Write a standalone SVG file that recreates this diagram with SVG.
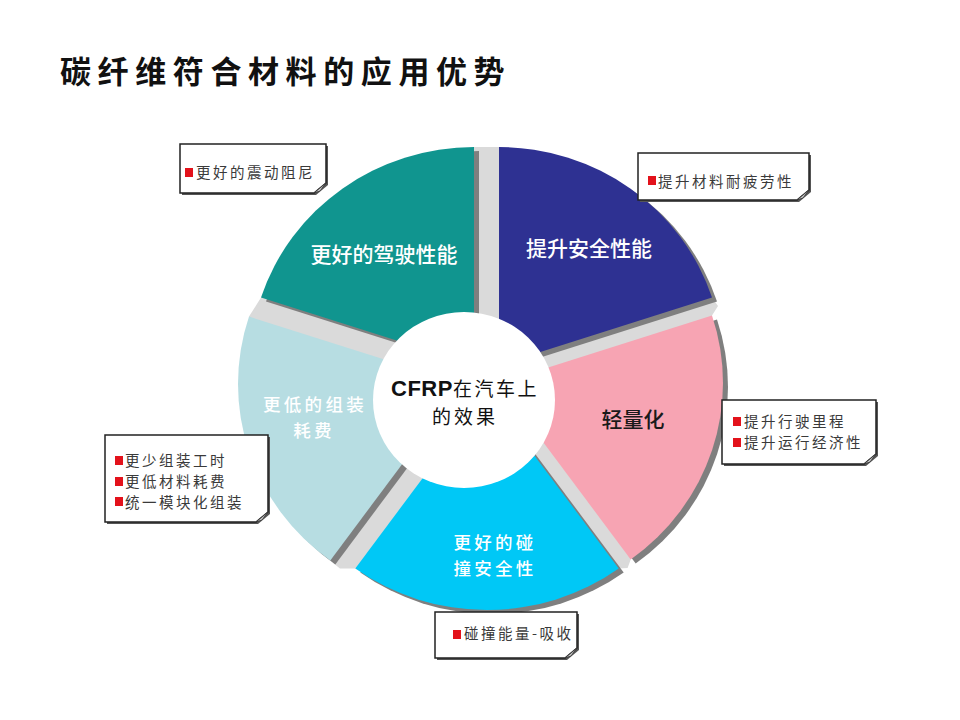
<svg xmlns="http://www.w3.org/2000/svg" width="960" height="720" viewBox="0 0 960 720">
<style>
.shadow{fill:#7f7f7f}
.lbl{font-family:"Noto Sans CJK SC","Noto Sans",sans-serif;font-size:21px;text-anchor:middle;font-weight:500}
.lbl2{font-family:"Noto Sans CJK SC","Noto Sans",sans-serif;font-size:17.5px;letter-spacing:3.3px;text-anchor:middle;font-weight:500}
.w{fill:#ffffff}
.co{font-family:"Noto Sans CJK SC","Noto Sans",sans-serif;font-size:14.5px;letter-spacing:2.5px;fill:#3a3a3a}
.box{fill:#ffffff;stroke:#222;stroke-width:1.5}
.boxsh{fill:#555}
.curl{fill:#c8c8c8;stroke:#333;stroke-width:0.8}
.bul{fill:#e3121b}
</style>
<rect width="960" height="720" fill="#ffffff"/>
<text x="60" y="83" font-family="'Noto Sans CJK SC',sans-serif" font-size="31" font-weight="bold" letter-spacing="6.6" fill="#111">碳纤维符合材料的应用优势</text>

<g id="base">
<path d="M474,147 L499,147 L712,297.6 L718,306 L712,315.6 L630.7,559.4 L627.6,568 L618.7,568.4 L355.3,568.4 L339.9,568.4 L330.3,560.4 L249,316.6 L261,297.6 Z" fill="#dadada"/>
</g>
<g id="shadows">
<path class="shadow" transform="translate(5,4)" d="M474,365 L474,147 A224,218 0 0,0 261,297.6 Z"/>
<path class="shadow" transform="translate(5,4)" d="M499,365 L499,147 A224,218 0 0,1 712,297.6 Z"/>
<path class="shadow" transform="translate(5,4)" d="M499,383 L712,315.6 A224,218 0 0,1 630.7,559.4 Z"/>
<path class="shadow" transform="translate(5,4)" d="M487,392 L618.7,568.4 A224,218 0 0,1 355.3,568.4 Z"/>
<path class="shadow" transform="translate(5,4)" d="M462,384 L330.3,560.4 A224,218 0 0,1 249,316.6 Z"/>
</g>
<g id="driving">
<path d="M474,365 L474,147 A224,218 0 0,0 261,297.6 Z" fill="#10958f"/>
</g>
<g id="safety">
<path d="M499,365 L499,147 A224,218 0 0,1 712,297.6 Z" fill="#2e3192"/>
</g>
<g id="lightweight">
<path d="M499,383 L712,315.6 A224,218 0 0,1 630.7,559.4 Z" fill="#f7a4b3"/>
</g>
<g id="crash">
<path d="M487,392 L618.7,568.4 A224,218 0 0,1 355.3,568.4 Z" fill="#00c8f6"/>
</g>
<g id="assembly">
<path d="M462,384 L330.3,560.4 A224,218 0 0,1 249,316.6 Z" fill="#b7dde2"/>
</g>
<g id="center">
<ellipse cx="464" cy="400" rx="91" ry="88" fill="#ffffff"/>
<text x="465" y="396" text-anchor="middle" font-size="19" letter-spacing="2.5" fill="#111" font-family="'Noto Sans CJK SC',sans-serif"><tspan font-family="'Liberation Sans',sans-serif" font-weight="bold" font-size="22" letter-spacing="0.5">CFRP</tspan>在汽车上</text>
<text x="465" y="424" text-anchor="middle" font-size="19" letter-spacing="3" fill="#111" font-family="'Noto Sans CJK SC',sans-serif">的效果</text>
</g>
<g id="labels">
<text class="lbl w" x="384" y="262">更好的驾驶性能</text>
<text class="lbl w" x="589" y="256">提升安全性能</text>
<text class="lbl" x="633" y="427" fill="#1a1a1a">轻量化</text>
<text class="lbl2 w" x="495" y="549">更好的碰</text>
<text class="lbl2 w" x="495" y="575">撞安全性</text>
<text class="lbl2 w" x="315" y="411">更低的组装</text>
<text class="lbl2 w" x="314" y="437">耗费</text>
</g>
<g id="connectors"></g>

<g id="note-damping">
<path class="boxsh" d="M182,146 H328 V185 L316,195 H182 Z"/>
<path class="box" d="M180,144 H326 V183 L314,193 H180 Z"/>
<path class="curl" d="M314,193 L326,183 L320,191 Z"/>
<rect class="bul" x="185" y="168" width="8" height="9"/>
<text class="co" x="196" y="178">更好的震动阻尼</text>
</g>
<g id="note-fatigue">
<path class="boxsh" d="M640,155 H811 V192 L799,202 H640 Z"/>
<path class="box" d="M638,153 H809 V190 L797,200 H638 Z"/>
<path class="curl" d="M797,200 L809,190 L803,198 Z"/>
<rect class="bul" x="648" y="176" width="8" height="9"/>
<text class="co" x="658" y="187">提升材料耐疲劳性</text>
</g>
<g id="note-range">
<path class="boxsh" d="M724,402 H878 V456 L866,466 H724 Z"/>
<path class="box" d="M722,400 H876 V454 L864,464 H722 Z"/>
<path class="curl" d="M864,464 L876,454 L870,462 Z"/>
<rect class="bul" x="733" y="417" width="8" height="9"/>
<text class="co" x="744" y="427">提升行驶里程</text>
<rect class="bul" x="733" y="438" width="8" height="9"/>
<text class="co" x="744" y="448">提升运行经济性</text>
</g>
<g id="note-assembly">
<path class="boxsh" d="M107,437 H270 V514 L258,524 H107 Z"/>
<path class="box" d="M105,435 H268 V512 L256,522 H105 Z"/>
<path class="curl" d="M256,522 L268,512 L262,520 Z"/>
<rect class="bul" x="115" y="456" width="8" height="9"/>
<text class="co" x="125" y="466">更少组装工时</text>
<rect class="bul" x="115" y="477" width="8" height="9"/>
<text class="co" x="125" y="487">更低材料耗费</text>
<rect class="bul" x="115" y="497" width="8" height="9"/>
<text class="co" x="125" y="508">统一模块化组装</text>
</g>
<g id="note-energy">
<path class="boxsh" d="M437,614 H579 V650 L567,660 H437 Z"/>
<path class="box" d="M435,612 H577 V648 L565,658 H435 Z"/>
<path class="curl" d="M565,658 L577,648 L571,656 Z"/>
<rect class="bul" x="453" y="630" width="8" height="9"/>
<text class="co" x="464" y="639">碰撞能量-吸收</text>
</g>
</svg>
